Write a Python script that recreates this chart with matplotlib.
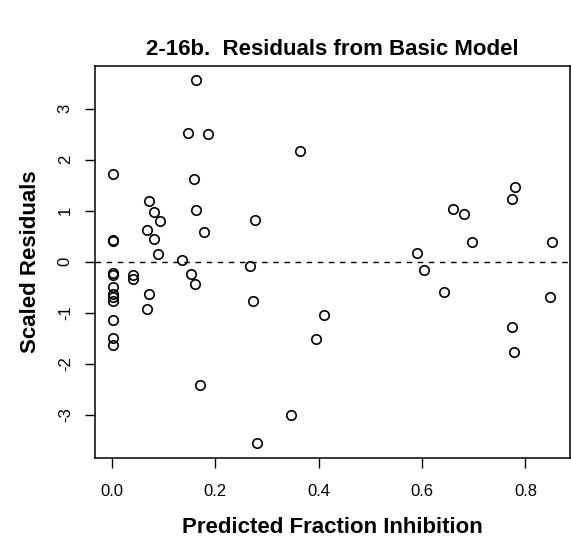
import matplotlib
matplotlib.use("Agg")
import matplotlib.pyplot as plt

# predicted fraction inhibition (x) and scaled residuals (y)
x_vals = [0.001, 0.001, 0.001, 0.001, 0.001, 0.001, 0.001, 0.001, 0.001, 0.001, 0.001, 0.001,
          0.040, 0.040,
          0.068, 0.071, 0.082, 0.093, 0.082, 0.089, 0.071, 0.068,
          0.136, 0.146, 0.162, 0.158, 0.163, 0.185, 0.178, 0.153, 0.161, 0.170,
          0.267, 0.273, 0.277, 0.281,
          0.346, 0.363, 0.394, 0.411,
          0.591, 0.604, 0.643, 0.659, 0.682, 0.697,
          0.774, 0.780, 0.774, 0.778,
          0.847, 0.852]
y_vals = [1.72, 0.43, 0.40, -0.22, -0.27, -0.50, -0.63, -0.70, -0.78, -1.15, -1.50, -1.63,
          -0.27, -0.34,
          0.62, 1.18, 0.97, 0.80, 0.44, 0.14, -0.63, -0.92,
          0.04, 2.53, 3.55, 1.62, 1.01, 2.51, 0.575, -0.235, -0.44, -2.42,
          -0.09, -0.78, 0.82, -3.56,
          -3.01, 2.17, -1.52, -1.05,
          0.16, -0.16, -0.60, 1.03, 0.93, 0.39,
          1.23, 1.46, -1.29, -1.78,
          -0.69, 0.39]

x_ticks = [0.0, 0.2, 0.4, 0.6, 0.8]
y_ticks = [-3, -2, -1, 0, 1, 2, 3]

plt.rcParams['font.family'] = ['Liberation Sans', 'DejaVu Sans']

fig = plt.figure(figsize=(5.71, 5.44), dpi=100)
ax = fig.add_axes([0.1664, 0.1586, 0.8316, 0.7201])

ax.plot(x_vals, y_vals, linestyle='none', marker='o', markersize=6.8,
        markerfacecolor='none', markeredgecolor='black', markeredgewidth=1.2)
ax.axhline(0, color='black', lw=1, linestyle=(0, (4, 4)))

# R style 4% padding
xr = max(x_vals) - min(x_vals)
yr = max(y_vals) - min(y_vals)
ax.set_xlim(min(x_vals) - 0.04 * xr, max(x_vals) + 0.04 * xr)
ax.set_ylim(min(y_vals) - 0.04 * yr, max(y_vals) + 0.04 * yr)

ax.set_xticks(x_ticks)
ax.set_xticklabels(['%.1f' % v for v in x_ticks])
ax.set_yticks(y_ticks)
ax.set_yticklabels([str(v) for v in y_ticks], rotation=90, va='center')
ax.tick_params(direction='out', length=7, width=1, labelsize=12, pad=9)
ax.tick_params(axis='x', pad=12)

for s in ax.spines.values():
    s.set_linewidth(1.1)

ax.set_title('2-16b.  Residuals from Basic Model', fontsize=16, fontweight='bold', pad=8)
ax.set_xlabel('Predicted Fraction Inhibition', fontsize=16, fontweight='bold', labelpad=13)
ax.set_ylabel('Scaled Residuals', fontsize=16, fontweight='bold', labelpad=12)

fig.savefig('out.png', dpi=100)
